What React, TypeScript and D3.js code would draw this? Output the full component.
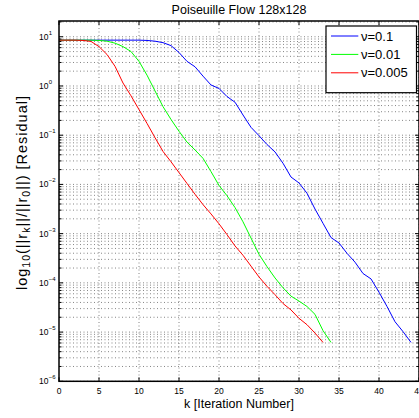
import React from "react";
import * as d3 from "d3";

const TITLE = "Poiseuille Flow 128x128";
const X_TICKS = [0, 5, 10, 15, 20, 25, 30, 35, 40, 45];
const Y_DECADES = [-6, -5, -4, -3, -2, -1, 0, 1];
const SERIES_NAMES = ["\u03bd=0.1", "\u03bd=0.01", "\u03bd=0.005"];
const SERIES_COLORS = ["#0000ff", "#00ff00", "#ff0000"];

// log10 of relative residual per iteration k = 0,1,2,...
const nu01Log = [
  0.931, 0.931, 0.931, 0.931, 0.931, 0.931, 0.931, 0.931, 0.931, 0.931, 0.931,
  0.925, 0.91, 0.88, 0.82, 0.68, 0.5, 0.39, 0.2, 0.02, -0.05, -0.215, -0.33,
  -0.59, -0.84, -1.01, -1.19, -1.34, -1.57, -1.85, -1.97, -2.18, -2.5, -2.79,
  -3.08, -3.19, -3.4, -3.58, -3.81, -3.92, -4.19, -4.48, -4.79, -4.99, -5.21,
];
const nu001Log = [
  0.931, 0.931, 0.931, 0.931, 0.931, 0.925, 0.91, 0.87, 0.8, 0.7, 0.5, 0.22,
  -0.1, -0.42, -0.68, -0.92, -1.14, -1.3, -1.47, -1.74, -2.02, -2.23, -2.47,
  -2.76, -3.09, -3.42, -3.67, -3.9, -4.1, -4.27, -4.37, -4.48, -4.64, -4.97,
  -5.21,
];
const nu0005Log = [
  0.931, 0.931, 0.931, 0.925, 0.905, 0.8, 0.64, 0.4, 0.06, -0.2, -0.48, -0.76,
  -1.05, -1.33, -1.54, -1.76, -1.98, -2.2, -2.41, -2.6, -2.8, -3.02, -3.25,
  -3.44, -3.66, -3.88, -4.07, -4.24, -4.42, -4.55, -4.72, -4.85, -5.02, -5.21,
];
const SERIES = [nu01Log, nu001Log, nu0005Log];

const W = 419;
const H = 418;
const L = 59;
const R = 419;
const T = 21;
const B = 381.3;
const FONT = "'Liberation Sans', Arial, Helvetica, sans-serif";

export default function App() {
  const x = d3.scaleLinear().domain([0, 45]).range([L, R]);
  const y = d3.scaleLog().domain([1e-6, Math.pow(10, 1.32)]).range([B, T]);

  const line = d3
    .line<number>()
    .x((_, i) => x(i))
    .y((d) => y(Math.pow(10, d)));

  const minorYs: number[] = [];
  for (const e of Y_DECADES) {
    for (let m = 2; m <= 9; m++) {
      const v = m * Math.pow(10, e);
      if (y(v) >= T) minorYs.push(y(v));
    }
  }
  const majorYs = Y_DECADES.map((e) => y(Math.pow(10, e)));
  const gridStyle = { stroke: "#666", strokeWidth: 0.8, strokeDasharray: "1,2.5" };

  return (
    <svg
      width={W}
      height={H}
      style={{ position: "absolute", left: 0, top: 0, background: "#fff" }}
      fontFamily={FONT}
    >
      <rect x={0} y={0} width={W} height={H} fill="#fff" />
      <rect x={L} y={T} width={R - L} height={B - T} fill="#fff" />
      {/* grid */}
      <g>
        {X_TICKS.slice(1).map((t) => (
          <line key={"gx" + t} x1={x(t)} x2={x(t)} y1={T} y2={B} {...gridStyle} />
        ))}
        {[...majorYs, ...minorYs].map((py, i) => (
          <line key={"gy" + i} x1={L} x2={R} y1={py} y2={py} {...gridStyle} />
        ))}
      </g>
      {/* series */}
      {SERIES.map((s, i) => (
        <path key={i} d={line(s) || ""} fill="none" stroke={SERIES_COLORS[i]} strokeWidth={1} />
      ))}
      {/* ticks */}
      <g stroke="#000" strokeWidth={1}>
        {X_TICKS.map((t) => (
          <g key={"xt" + t}>
            <line x1={x(t)} x2={x(t)} y1={B} y2={B - 4} />
            <line x1={x(t)} x2={x(t)} y1={T} y2={T + 4} />
          </g>
        ))}
        {majorYs.map((py, i) => (
          <g key={"yt" + i}>
            <line x1={L} x2={L + 4} y1={py} y2={py} />
            <line x1={R} x2={R - 4} y1={py} y2={py} />
          </g>
        ))}
        {minorYs.map((py, i) => (
          <g key={"ym" + i}>
            <line x1={L} x2={L + 2.5} y1={py} y2={py} />
            <line x1={R} x2={R - 2.5} y1={py} y2={py} />
          </g>
        ))}
      </g>
      {/* axes box */}
      <rect x={L} y={T} width={R - L} height={B - T} fill="none" stroke="#000" strokeWidth={1.5} />
      {/* x tick labels */}
      {X_TICKS.map((t) => (
        <text key={"xl" + t} x={x(t)} y={394} fontSize={8.5} textAnchor="middle" fill="#000">
          {t}
        </text>
      ))}
      {/* y tick labels */}
      {Y_DECADES.map((e) => {
        const py = y(Math.pow(10, e));
        return (
          <g key={"yl" + e}>
            <text x={48.5} y={py + 3} fontSize={8.5} textAnchor="end" fill="#000">
              10
            </text>
            <text x={48.8} y={py - 2} fontSize={6} textAnchor="start" fill="#000">
              {e < 0 ? "\u2212" + Math.abs(e) : String(e)}
            </text>
          </g>
        );
      })}
      {/* title */}
      <text x={(L + R) / 2} y={13.5} fontSize={12.5} textAnchor="middle" fill="#000">
        {TITLE}
      </text>
      {/* x label */}
      <text x={(L + R) / 2} y={408} fontSize={12.5} textAnchor="middle" fill="#000">
        k [Iteration Number]
      </text>
      {/* y label */}
      <text
        transform={`translate(27,${193}) rotate(-90)`}
        fontSize={14.5}
        textAnchor="middle"
        fill="#000"
        textLength={194}
        lengthAdjust="spacing"
      >
        <tspan>log</tspan>
        <tspan fontSize={10.5} dy={3}>10</tspan>
        <tspan dy={-3}>(||r</tspan>
        <tspan fontSize={10.5} dy={3}>k</tspan>
        <tspan dy={-3}>||/||r</tspan>
        <tspan fontSize={10.5} dy={3}>0</tspan>
        <tspan dy={-3}>||) [Residual]</tspan>
      </text>
      {/* legend */}
      <g>
        <rect x={326} y={26} width={90.5} height={66.7} fill="#fff" stroke="#000" strokeWidth={1.2} />
        {SERIES_NAMES.map((n, i) => {
          const ly = 36 + i * 18.4;
          return (
            <g key={"lg" + i}>
              <line x1={331} x2={358.3} y1={ly} y2={ly} stroke={SERIES_COLORS[i]} strokeWidth={1} />
              <text x={361} y={ly + 4.5} fontSize={13} fill="#000">
                {n}
              </text>
            </g>
          );
        })}
      </g>
    </svg>
  );
}
